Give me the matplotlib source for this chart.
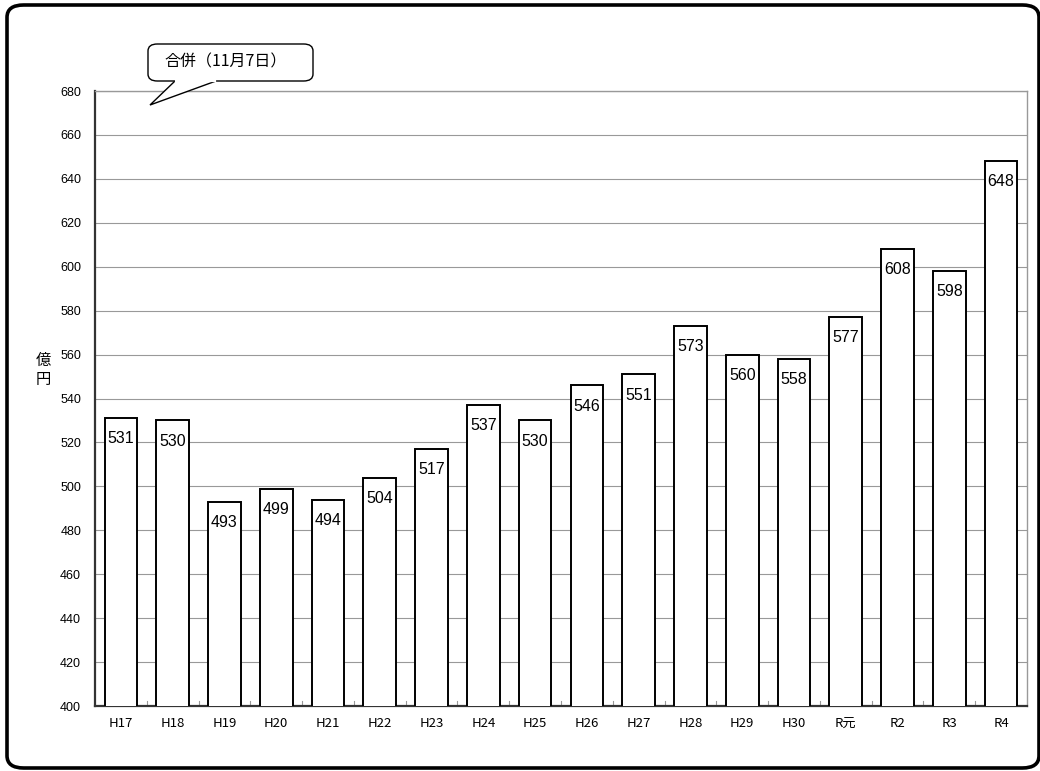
import matplotlib
matplotlib.use("Agg")
import matplotlib.pyplot as plt
from matplotlib.patches import FancyBboxPatch, Polygon
import numpy as np

plt.rcParams['font.family'] = ['Noto Sans CJK JP', 'DejaVu Sans']

categories = ["H17", "H18", "H19", "H20", "H21", "H22", "H23", "H24", "H25",
              "H26", "H27", "H28", "H29", "H30", "R元", "R2", "R3", "R4"]
values = [531, 530, 493, 499, 494, 504, 517, 537, 530,
          546, 551, 573, 560, 558, 577, 608, 598, 648]
yticks = list(range(400, 681, 20))

W, H = 1040, 771
fig = plt.figure(figsize=(W / 100, H / 100), dpi=100)

# outer rounded frame
frame = FancyBboxPatch((7 / W, 3 / H), (1039 - 7) / W, (766 - 3) / H,
                       boxstyle="round,pad=0,rounding_size=0.016",
                       transform=fig.transFigure, fill=False,
                       edgecolor='black', linewidth=2.6, clip_on=False)
fig.patches.append(frame)

ax = fig.add_axes([95 / W, 1 - 706 / H, (1027 - 95) / W, (706 - 91) / H])
x = np.arange(len(categories))
ax.bar(x, values, width=0.63, color='white', edgecolor='black', linewidth=1.4,
       zorder=3, bottom=0)
ax.set_ylim(400, 680)
ax.set_xlim(-0.5, len(categories) - 0.5)
ax.set_yticks(yticks)
ax.set_yticklabels([str(v) for v in yticks], fontsize=9, family='Liberation Sans')
ax.set_xticks(x)
ax.set_xticklabels(categories, fontsize=9.5)
ax.tick_params(axis='y', length=0, pad=10)
ax.tick_params(axis='x', length=0, pad=8)
ax.yaxis.grid(True, color='#999999', linewidth=0.8, zorder=0)
ax.set_axisbelow(True)
for s in ['top', 'right']:
    ax.spines[s].set_color('#999999')
    ax.spines[s].set_linewidth(1.0)
ax.spines['left'].set_color('#333333')
ax.spines['left'].set_linewidth(1.6)
ax.spines['bottom'].set_color('#333333')
ax.spines['bottom'].set_linewidth(1.6)

# minor ticks between categories at bottom
for xi in np.arange(0.5, len(categories) - 0.5, 1):
    ax.plot([xi, xi], [400, 402.5], color='#999999', linewidth=0.8, zorder=2)

for xi, v in zip(x, values):
    ax.text(xi, v - 6, str(v), ha='center', va='top', fontsize=11.5,
            family='Liberation Sans', zorder=4)

# y label
fig.text(43 / W, 1 - 370 / H, "億\n円", ha='center', va='center', fontsize=11,
         linespacing=1.1)

# callout
box = FancyBboxPatch((148 / W, 1 - 81 / H), (313 - 148) / W, (81 - 44) / H,
                     boxstyle="round,pad=0,rounding_size=0.009",
                     transform=fig.transFigure, facecolor='white',
                     edgecolor='black', linewidth=1.0, zorder=5)
fig.patches.append(box)
tail = Polygon([(175 / W, 1 - 81 / H), (150 / W, 1 - 105 / H), (216 / W, 1 - 81 / H)],
               closed=False, transform=fig.transFigure, facecolor='white',
               edgecolor='black', linewidth=1.0, zorder=6)
fig.patches.append(tail)
fig.add_artist(plt.Line2D([176 / W, 215 / W], [1 - 81 / H, 1 - 81 / H],
                          transform=fig.transFigure, color='white', linewidth=1.6, zorder=7))
fig.text(226 / W, 1 - 62 / H, "合併（11月7日）", ha='center', va='center',
         fontsize=11.5, zorder=8)

fig.savefig("out.png", dpi=100)
